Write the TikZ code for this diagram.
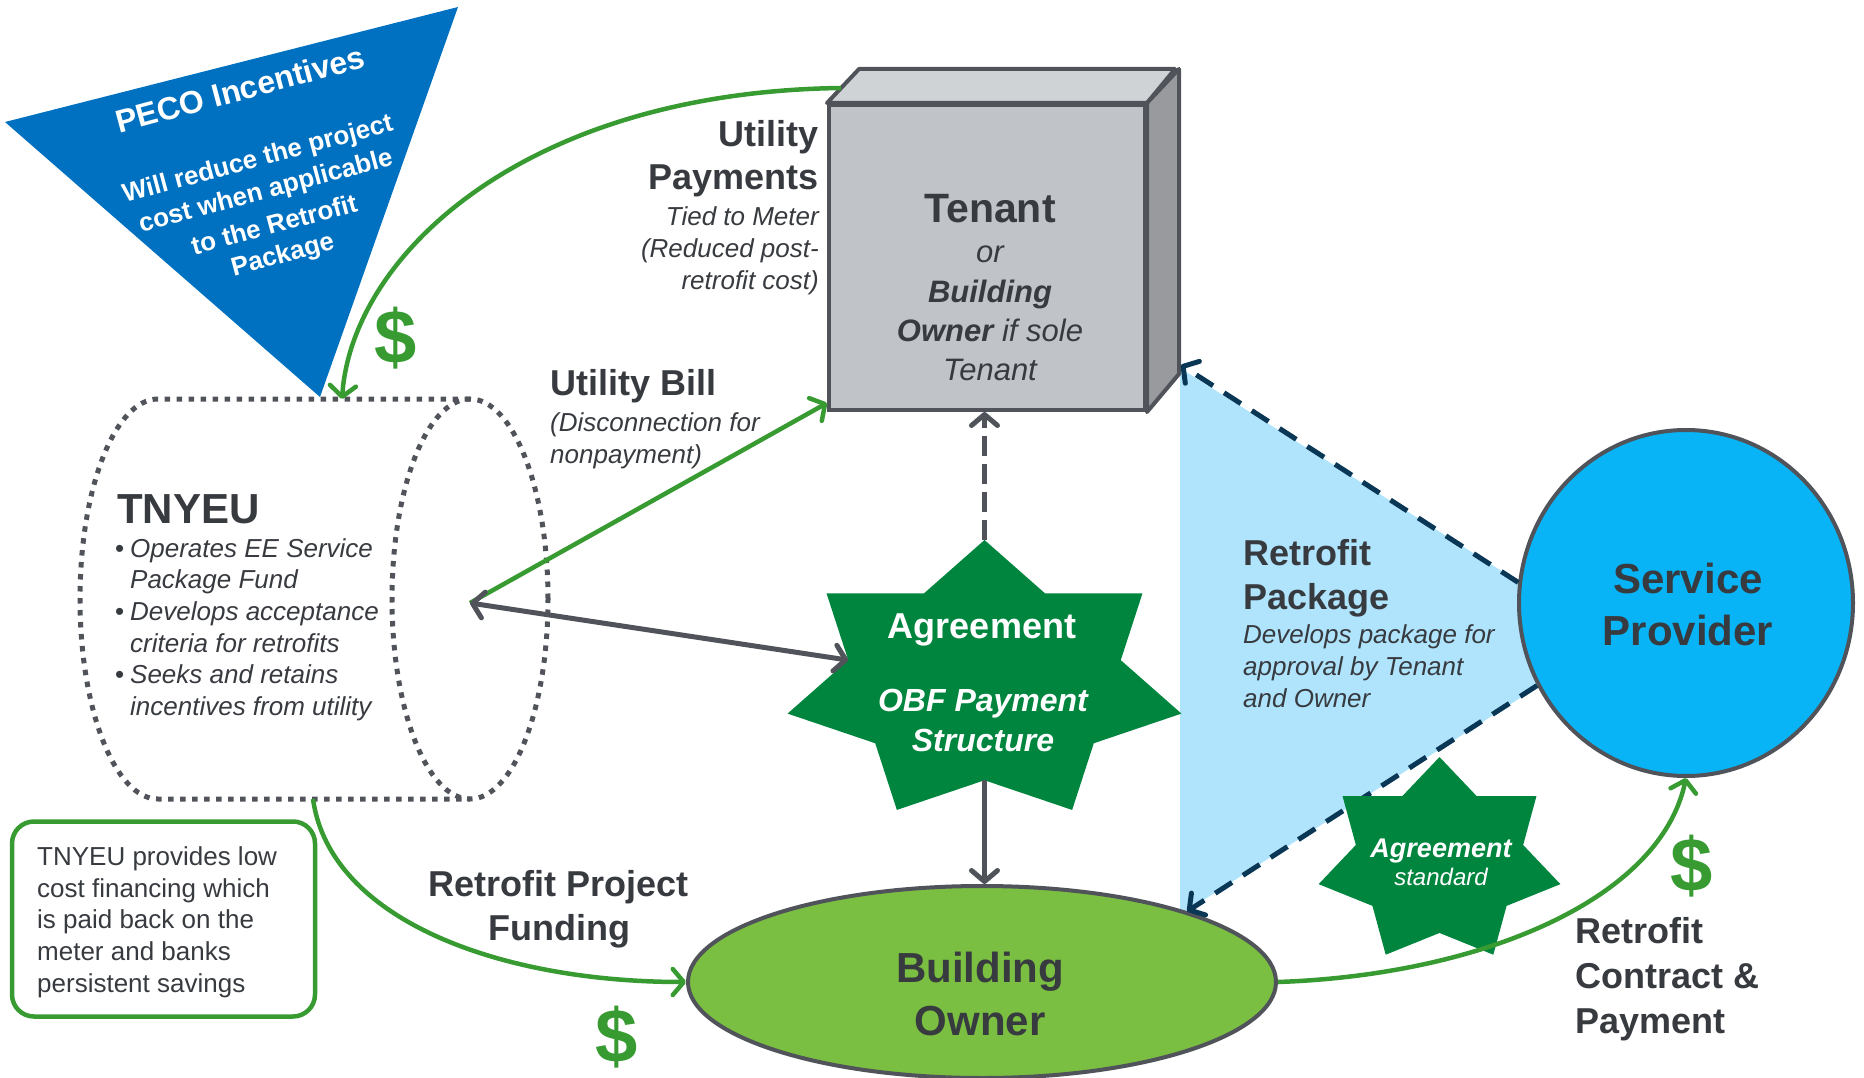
\documentclass[tikz,border=0pt]{standalone}
\usepackage{fontspec}
\setmainfont{Liberation Sans}
\usetikzlibrary{arrows.meta,calc,shapes.geometric}
\definecolor{txt}{RGB}{55,58,63}
\definecolor{lgreen}{RGB}{55,155,50}
\definecolor{sgreen}{RGB}{0,133,62}
\definecolor{bogreen}{RGB}{122,190,66}
\definecolor{spblue}{RGB}{8,180,245}
\definecolor{lblue}{RGB}{175,228,252}
\definecolor{navy}{RGB}{10,55,85}
\definecolor{lgray}{RGB}{80,84,90}
\definecolor{tfront}{RGB}{192,195,199}
\definecolor{ttop}{RGB}{208,211,214}
\definecolor{tright}{RGB}{152,154,157}
\definecolor{pecoblue}{RGB}{0,112,192}
\begin{document}
\begin{tikzpicture}[x=1pt,y=-1pt,
  >={Straight Barb[length=11pt,width=26pt,round]},
  every node/.style={inner sep=0pt, text=txt},
  lbl/.style={font=\fontsize{36}{44}\selectfont\bfseries},
  sub/.style={font=\fontsize{26}{32}\selectfont\itshape},
  body/.style={font=\fontsize{26}{32}\selectfont},
  big/.style={font=\fontsize{42}{50}\selectfont\bfseries},
  tsub/.style={font=\fontsize{31}{38}\selectfont\itshape},
  dollar/.style={text=lgreen, font=\fontsize{76}{80}\selectfont\bfseries},
  pecot/.style={rotate=15, text=white, font=\fontsize{26}{33}\selectfont\bfseries},
  garr/.style={draw=lgreen, line width=4.5pt},
  grayarr/.style={draw=lgray, line width=5pt},
  navydash/.style={draw=navy, line width=5pt, dash pattern=on 20pt off 13pt},
  tdot/.style={draw=lgray, line width=5pt, dash pattern=on 5.5pt off 6.5pt}]
\useasboundingbox (0,0) rectangle (1864,1078);

% light blue retrofit package region
\fill[lblue] (1180,368) -- (1611,640) -- (1180,915) -- cycle;

% PECO incentives triangle
\fill[pecoblue] (5,122) -- (458,7) -- (320,397) -- cycle;
\node[rotate=15, text=white, font=\fontsize{32}{36}\selectfont\bfseries] (peco) at (240,89) {PECO Incentives};
\node[pecot] (pl1) at (258,160) {Will reduce the project};
\node[pecot] (pl2) at (266,192) {cost when applicable};
\node[pecot] (pl3) at (274,224) {to the Retrofit};
\node[pecot] (pl4) at (283,256) {Package};

% TNYEU cylinder
\draw[tdot] (470,399) -- (158,399) arc[start angle=90, end angle=270, x radius=78pt, y radius=200pt] -- (470,799);
\draw[tdot] (470,599) ellipse [x radius=78pt, y radius=200pt];
\coordinate (tnc) at (470,603);
\coordinate (tntop) at (342,399);
\coordinate (tnbot) at (313,799);
\node[big, anchor=base west] (tn0) at (117,523) {TNYEU};
\node[body, anchor=base west] (tnb1) at (115,557) {•};
\node[sub, anchor=base west] (tn1) at (130,557) {Operates EE Service};
\node[sub, anchor=base west] (tn2) at (130,588) {Package Fund};
\node[body, anchor=base west] (tnb2) at (115,620) {•};
\node[sub, anchor=base west] (tn3) at (130,620) {Develops acceptance};
\node[sub, anchor=base west] (tn4) at (130,652) {criteria for retrofits};
\node[body, anchor=base west] (tnb3) at (115,683) {•};
\node[sub, anchor=base west] (tn5) at (130,683) {Seeks and retains};
\node[sub, anchor=base west] (tn6) at (130,715) {incentives from utility};

% Tenant box
\node[draw=lgray, fill=tfront, line width=4pt, minimum width=316pt, minimum height=305pt] (tenant) at (987,257.5) {};
\filldraw[fill=ttop, draw=lgray, line width=4pt, line join=round] (tenant.north west) -- ++(32,-34) -- ++(316,0) -- (tenant.north east) -- cycle;
\filldraw[fill=tright, draw=lgray, line width=4pt, line join=round] (tenant.north east) -- ++(32,-34) -- ++(0,305) -- (tenant.south east) -- cycle;
\coordinate (tpa) at ($(tenant.north west)+(14,-15)$);
\coordinate (tbl) at ($(tenant.south west)+(0,-9)$);
\coordinate (trb) at ($(tenant.south east)+(34,-47)$);
\node[font=\fontsize{41}{48}\selectfont\bfseries, anchor=base] (t1) at (990,223) {Tenant};
\node[tsub, anchor=base] (t2) at (990,262) {or};
\node[tsub, anchor=base] (t3) at (990,302) {\textbf{Building}};
\node[tsub, anchor=base] (t4) at (990,341) {\textbf{Owner} if sole};
\node[tsub, anchor=base] (t5) at (990,380) {Tenant};

% Utility payments label
\node[lbl, anchor=base east] (up1) at (819,147) {Utility};
\node[lbl, anchor=base east] (up2) at (819,190) {Payments};
\node[sub, anchor=base east] (up3) at (819,226) {Tied to Meter};
\node[sub, anchor=base east] (up4) at (819,258) {(Reduced post-};
\node[sub, anchor=base east] (up5) at (819,289) {retrofit cost)};

% Utility bill label
\node[lbl, anchor=base west] (ub1) at (550,395) {Utility Bill};
\node[sub, anchor=base west] (ub2) at (550,431) {(Disconnection for};
\node[sub, anchor=base west] (ub3) at (550,463) {nonpayment)};

% Big agreement star
\coordinate (agc) at (984.5,682);
\foreach \k in {0,...,13}{
  \pgfmathsetmacro\ang{90+\k*360/14}
  \pgfmathsetmacro\fac{mod(\k,2)==0 ? 1 : 0.692}
  \pgfmathsetmacro\rx{202*\fac}
  \pgfmathsetmacro\ry{142*\fac}
  \coordinate (S\k) at ($(agc)+(\ang:\rx pt and \ry pt)$);
}
\fill[sgreen] (S0) \foreach \k in {1,...,13}{ -- (S\k)} -- cycle;
\node[text=white, font=\fontsize{36}{44}\selectfont\bfseries, anchor=base] (ag1) at (982,638) {Agreement};
\node[text=white, font=\fontsize{32}{40}\selectfont\bfseries\itshape, anchor=base] (ag2) at (983,711) {OBF Payment};
\node[text=white, font=\fontsize{32}{40}\selectfont\bfseries\itshape, anchor=base] (ag3) at (983,751) {Structure};

% Building owner
\node[ellipse, draw=lgray, fill=bogreen, line width=4pt, minimum width=588pt, minimum height=192pt] (bo) at (982,982) {};
\node[big, anchor=base] (bo1) at (980,982) {Building};
\node[big, anchor=base] (bo2) at (980,1035) {Owner};

% Service provider
\node[ellipse, draw=lgray, fill=spblue, line width=4pt, minimum width=334pt, minimum height=346pt] (sp) at (1686,603) {};
\node[big, anchor=base] (sp1) at (1688,593) {Service};
\node[big, anchor=base] (sp2) at (1688,645) {Provider};

% Retrofit package label
\node[lbl, anchor=base west] (rp1) at (1243,565) {Retrofit};
\node[lbl, anchor=base west] (rp2) at (1243,609) {Package};
\node[sub, anchor=base west] (rp3) at (1243,643) {Develops package for};
\node[sub, anchor=base west] (rp4) at (1243,675) {approval by Tenant};
\node[sub, anchor=base west] (rp5) at (1243,707) {and Owner};

% navy dashed arrows
\draw[navydash, ->] (sp.173) -- (trb);
\draw[navydash, ->] (sp.209) -- (bo.19);

% small agreement star
\coordinate (asc) at (1439.5,861);
\foreach \k in {0,...,13}{
  \pgfmathsetmacro\ang{90+\k*360/14}
  \pgfmathsetmacro\fac{mod(\k,2)==0 ? 1 : 0.692}
  \pgfmathsetmacro\rx{124*\fac}
  \pgfmathsetmacro\ry{104*\fac}
  \coordinate (T\k) at ($(asc)+(\ang:\rx pt and \ry pt)$);
}
\fill[sgreen] (T0) \foreach \k in {1,...,13}{ -- (T\k)} -- cycle;
\node[text=white, font=\fontsize{27}{32}\selectfont\bfseries\itshape, anchor=base] (as1) at (1441,857) {Agreement};
\node[text=white, font=\fontsize{24}{28}\selectfont\itshape, anchor=base] (as2) at (1441,885) {standard};

% note box
\node[draw=lgreen, line width=4.5pt, rounded corners=22pt, minimum width=303pt, minimum height=195pt] (note) at (163.5,919) {};
\node[body, anchor=base west] (n1) at (37,865) {TNYEU provides low};
\node[body, anchor=base west] (n2) at (37,897) {cost financing which};
\node[body, anchor=base west] (n3) at (37,928) {is paid back on the};
\node[body, anchor=base west] (n4) at (37,960) {meter and banks};
\node[body, anchor=base west] (n5) at (37,992) {persistent savings};

% labels
\node[lbl, anchor=base] (rf1) at (559,896) {Retrofit Project};
\node[lbl, anchor=base] (rf2) at (559,940) {Funding};
\node[lbl, anchor=base west] (rc1) at (1575,943) {Retrofit};
\node[lbl, anchor=base west] (rc2) at (1575,988) {Contract \&};
\node[lbl, anchor=base west] (rc3) at (1575,1033) {Payment};
\node[dollar] (d1) at (396,338) {\$};
\node[dollar] (d2) at (617,1037) {\$};
\node[dollar] (d3) at (1692,866) {\$};

% connectors
\draw[garr, ->] (tpa) .. controls (525,92) and (352,255) .. (tntop);
\draw[garr, ->] (tnc) -- (tbl);
\draw[grayarr, <->] (tnc) -- (S3);
\draw[grayarr, dash pattern=on 20pt off 8pt, ->] (S0) -- (S0 |- tenant.south);
\draw[grayarr, ->] (S7) -- (S7 |- bo.north);
\draw[garr, ->] (tnbot) .. controls (330,920) and (500,982) .. (bo.west);
\draw[garr, ->] (bo.east) .. controls (1480,975) and (1660,900) .. (sp.south);
\end{tikzpicture}
\end{document}
